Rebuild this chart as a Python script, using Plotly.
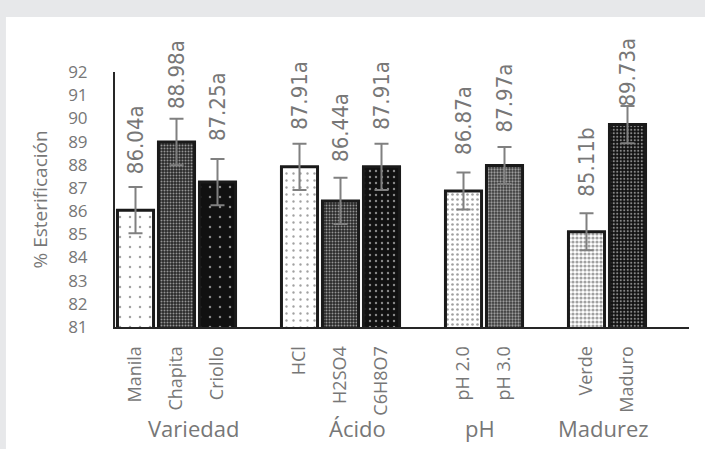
# % Esterificación por variedad, ácido, pH y madurez
import plotly.graph_objects as go

# categorias (las cadenas vacias son huecos entre grupos, como en la hoja de Excel)
categorias = ["Manila", "Chapita", "Criollo", " ",
              "HCl", "H2SO4", "C6H8O7", "  ",
              "pH 2.0", "pH 3.0",
              "   ", "Verde", "Maduro", "    "]
grupos = ["Variedad", "Ácido", "pH", "Madurez"]
grupo_de = ["Variedad"] * 4 + ["Ácido"] * 4 + ["pH"] * 2 + ["Madurez"] * 4

esterificacion = [86.04, 88.98, 87.25, None,
                  87.91, 86.44, 87.91, None,
                  86.87, 87.97,
                  None, 85.11, 89.73, None]
error = [1.0, 1.0, 1.0, None,
         1.0, 1.0, 1.0, None,
         0.8, 0.8,
         None, 0.8, 0.8, None]
letras = ["a", "a", "a", "",
          "a", "a", "a", "",
          "a", "a",
          "", "b", "a", ""]

y_ticks = list(range(81, 93))

# estilos de relleno (tramas) por barra
FG_B, FG_N = "#111111", "#ffffff"
trama = {
    "Manila":  dict(bg="#ffffff", fg=FG_B, size=10, sol=0.05),
    "Chapita": dict(bg="#2a2a2a", fg=FG_N, size=3, sol=0.35),
    "Criollo": dict(bg="#111111", fg=FG_N, size=10, sol=0.05),
    "HCl":     dict(bg="#ffffff", fg=FG_B, size=7, sol=0.09),
    "H2SO4":   dict(bg="#2a2a2a", fg=FG_N, size=3, sol=0.35),
    "C6H8O7":  dict(bg="#111111", fg=FG_N, size=6, sol=0.12),
    "pH 2.0":  dict(bg="#ffffff", fg=FG_B, size=5, sol=0.22),
    "pH 3.0":  dict(bg="#3a3a3a", fg=FG_N, size=3, sol=0.45),
    "Verde":   dict(bg="#ffffff", fg=FG_B, size=4, sol=0.5),
    "Maduro":  dict(bg="#111111", fg=FG_N, size=3.5, sol=0.3),
}
vacio = dict(bg="#ffffff", fg="#ffffff", size=8, sol=0.1)
t = [trama.get(c, vacio) for c in categorias]

desplaz_etiqueta = [34, 31, 39, 0, 35, 37, 35, 0, 34, 31, 0, 33, 16, 0]

GRIS = "#777777"
FUENTE = "Open Sans, Lato, sans-serif"
ESTRECHA = "Liberation Sans Narrow, Arial Narrow, DejaVu Sans Condensed, sans-serif"

fig = go.Figure()
fig.add_trace(go.Bar(
    x=categorias,
    y=esterificacion,
    base=0,
    marker=dict(
        color=[p["bg"] for p in t],
        line=dict(color="#1a1a1a", width=3),
        pattern=dict(
            shape=["."] * len(t),
            bgcolor=[p["bg"] for p in t],
            fgcolor=[p["fg"] for p in t],
            size=[p["size"] for p in t],
            solidity=[p["sol"] for p in t],
        ),
    ),
    error_y=dict(type="data", array=error, visible=True,
                 color="#808080", thickness=2, width=7),
    showlegend=False,
    hoverinfo="x+y",
))

# etiquetas de datos verticales
for c, v, l, dy in zip(categorias, esterificacion, letras, desplaz_etiqueta):
    if v is None:
        continue
    fig.add_annotation(x=c, y=v, text=f"{v:.2f}{l}", textangle=-90,
                       showarrow=False, yanchor="bottom", yshift=dy,
                       font=dict(family=ESTRECHA, size=22, color=GRIS))

# etiquetas de grupo
for g in grupos:
    idx = [i for i, gg in enumerate(grupo_de) if gg == g]
    fig.add_annotation(x=sum(idx) / len(idx), y=-0.396, yref="paper",
                       xshift=-4,
                       text=g, showarrow=False, yanchor="middle",
                       font=dict(family=FUENTE, size=22, color=GRIS))

# titulo del eje y
fig.add_annotation(x=-0.1307, y=0.5, xref="paper", yref="paper",
                   xanchor="center", yanchor="middle",
                   text="% Esterificación", textangle=-90, showarrow=False,
                   font=dict(family=FUENTE, size=19, color=GRIS))

# fondo: marco gris con panel blanco
fig.add_shape(type="rect", xref="paper", yref="paper",
              x0=-0.19, x1=1.03, y0=-0.48, y1=1.2157,
              fillcolor="#ffffff", line=dict(width=0), layer="below")

fig.update_layout(
    width=705, height=449,
    margin=dict(l=115, r=16, t=72, b=122),
    paper_bgcolor="#e7e8ea",
    plot_bgcolor="rgba(0,0,0,0)",
    bargap=0.12,
    font=dict(family=FUENTE, color=GRIS),
)
fig.update_xaxes(
    type="category", categoryorder="array", categoryarray=categorias,
    range=[-0.5, len(categorias) - 0.5],
    tickangle=-90, tickfont=dict(size=18, color=GRIS, family=FUENTE),
    ticks="outside", ticklen=10, tickcolor="rgba(0,0,0,0)",
    showline=True, linecolor="#262626", linewidth=2,
    showgrid=False, zeroline=False,
)
fig.update_yaxes(
    range=[81, 92], tickvals=y_ticks,
    tickfont=dict(size=17, color=GRIS, family=FUENTE),
    ticks="outside", ticklen=22, tickcolor="rgba(0,0,0,0)",
    showline=True, linecolor="#262626", linewidth=2,
    showgrid=False, zeroline=False,
)

fig.write_html("out.html", config={"displayModeBar": False},
               post_script="document.body.style.margin='0';")
